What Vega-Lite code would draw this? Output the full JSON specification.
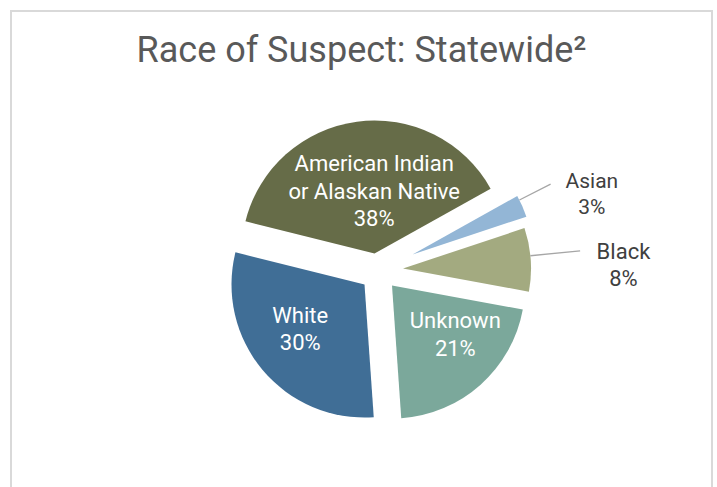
{
  "$schema": "https://vega.github.io/schema/vega-lite/v6.json",
  "width": 701,
  "height": 477,
  "autosize": {"type": "none"},
  "padding": {"left": 11, "top": 11, "right": 5, "bottom": -1},
  "background": "white",
  "config": {
    "view": {"stroke": null},
    "font": "Roboto"
  },
  "title": {
    "text": "Race of Suspect: Statewide²",
    "font": "Roboto",
    "fontSize": 36,
    "fontWeight": "normal",
    "color": "#595959",
    "anchor": "middle",
    "baseline": "alphabetic",
    "offset": -88
  },
  "data": {
    "values": [
      {"race": "American Indian or Alaskan Native", "label": "American Indian\nor Alaskan Native", "value": 38},
      {"race": "Asian", "label": "Asian", "value": 3},
      {"race": "Black", "label": "Black", "value": 8},
      {"race": "Unknown", "label": "Unknown", "value": 21},
      {"race": "White", "label": "White", "value": 30}
    ]
  },
  "transform": [
    {"stack": "value", "groupby": [], "sort": [{"field": "race", "order": "ascending"}], "as": ["v0", "v1"]},
    {"calculate": "(datum.v0 + datum.v1) / 2", "as": "mid"},
    {"calculate": "datum.label + '\\n' + datum.value + '%'", "as": "text"}
  ],
  "layer": [
    {
      "data": {"values": [{"frame": 1}]},
      "mark": {"type": "rect", "fill": null, "stroke": "#d9d9d9", "strokeWidth": 2},
      "encoding": {
        "x": {"value": 0}, "x2": {"value": "width"},
        "y": {"value": 0}, "y2": {"value": "height"}
      }
    },
    {
      "transform": [{"filter": "datum.race === 'American Indian or Alaskan Native'"}],
      "encoding": {
        "theta": {"field": "v0", "type": "quantitative", "scale": {"domain": [0, 100], "range": [4.957, 11.240]}}
      },
      "layer": [
        {"mark": {"type": "arc", "radius": 133, "xOffset": 13, "yOffset": 4, "color": "#666c48"},
         "encoding": {"theta2": {"field": "v1"}}},
        {"mark": {"type": "text", "radius": 63, "xOffset": 13, "yOffset": 4, "dx": 8, "dy": -27, "color": "white", "fontSize": 22, "lineBreak": "\n", "lineHeight": 27.5, "align": "center", "baseline": "middle"},
         "encoding": {"theta": {"field": "mid", "type": "quantitative"}, "text": {"field": "text"}}}
      ]
    },
    {
      "transform": [{"filter": "datum.race === 'Asian'"}],
      "encoding": {
        "theta": {"field": "v0", "type": "quantitative", "scale": {"domain": [0, 100], "range": [4.957, 11.240]}}
      },
      "layer": [
        {"mark": {"type": "arc", "radius": 120, "xOffset": 51, "yOffset": 5, "color": "#93b6d6"},
         "encoding": {"theta2": {"field": "v1"}}},
        {"mark": {"type": "arc", "radius": 155, "radius2": 120, "xOffset": 51, "yOffset": 5, "thetaOffset": -0.056, "theta2Offset": -0.056, "stroke": "#a6a6a6", "strokeWidth": 1.3, "fill": null},
         "encoding": {"theta": {"field": "mid", "type": "quantitative"}, "theta2": {"field": "mid"}}},
        {"mark": {"type": "text", "radius": 190, "xOffset": 51, "yOffset": 5, "dx": 5.5, "dy": 4, "color": "#404040", "fontSize": 21, "lineBreak": "\n", "lineHeight": 26, "align": "center", "baseline": "middle"},
         "encoding": {"theta": {"field": "mid", "type": "quantitative"}, "text": {"field": "text"}}}
      ]
    },
    {
      "transform": [{"filter": "datum.race === 'Black'"}],
      "encoding": {
        "theta": {"field": "v0", "type": "quantitative", "scale": {"domain": [0, 100], "range": [4.957, 11.240]}}
      },
      "layer": [
        {"mark": {"type": "arc", "radius": 128, "xOffset": 41.5, "yOffset": 19, "color": "#a3aa80"},
         "encoding": {"theta2": {"field": "v1"}}},
        {"mark": {"type": "arc", "radius": 178, "radius2": 128, "xOffset": 41.5, "yOffset": 19, "thetaOffset": -0.03, "theta2Offset": -0.03, "stroke": "#a6a6a6", "strokeWidth": 1.3, "fill": null},
         "encoding": {"theta": {"field": "mid", "type": "quantitative"}, "theta2": {"field": "mid"}}},
        {"mark": {"type": "text", "radius": 222, "xOffset": 41.5, "yOffset": 19, "dx": -1, "dy": -1, "color": "#404040", "fontSize": 22, "lineBreak": "\n", "lineHeight": 27, "align": "center", "baseline": "middle"},
         "encoding": {"theta": {"field": "mid", "type": "quantitative"}, "text": {"field": "text"}}}
      ]
    },
    {
      "transform": [{"filter": "datum.race === 'Unknown'"}],
      "encoding": {
        "theta": {"field": "v0", "type": "quantitative", "scale": {"domain": [0, 100], "range": [4.957, 11.240]}}
      },
      "layer": [
        {"mark": {"type": "arc", "radius": 133, "xOffset": 30.5, "yOffset": 36, "color": "#7ba89b"},
         "encoding": {"theta2": {"field": "v1"}}},
        {"mark": {"type": "text", "radius": 80, "xOffset": 30.5, "yOffset": 36, "dx": 10, "dy": -24, "color": "white", "fontSize": 22, "lineBreak": "\n", "lineHeight": 27.5, "align": "center", "baseline": "middle"},
         "encoding": {"theta": {"field": "mid", "type": "quantitative"}, "text": {"field": "text"}}}
      ]
    },
    {
      "transform": [{"filter": "datum.race === 'White'"}],
      "encoding": {
        "theta": {"field": "v0", "type": "quantitative", "scale": {"domain": [0, 100], "range": [4.957, 11.240]}}
      },
      "layer": [
        {"mark": {"type": "arc", "radius": 133, "xOffset": 3, "yOffset": 35, "color": "#406e96"},
         "encoding": {"theta2": {"field": "v1"}}},
        {"mark": {"type": "text", "radius": 78, "xOffset": 3, "yOffset": 35, "dx": -4.5, "dy": -19, "color": "white", "fontSize": 22, "lineBreak": "\n", "lineHeight": 27.5, "align": "center", "baseline": "middle"},
         "encoding": {"theta": {"field": "mid", "type": "quantitative"}, "text": {"field": "text"}}}
      ]
    }
  ]
}
